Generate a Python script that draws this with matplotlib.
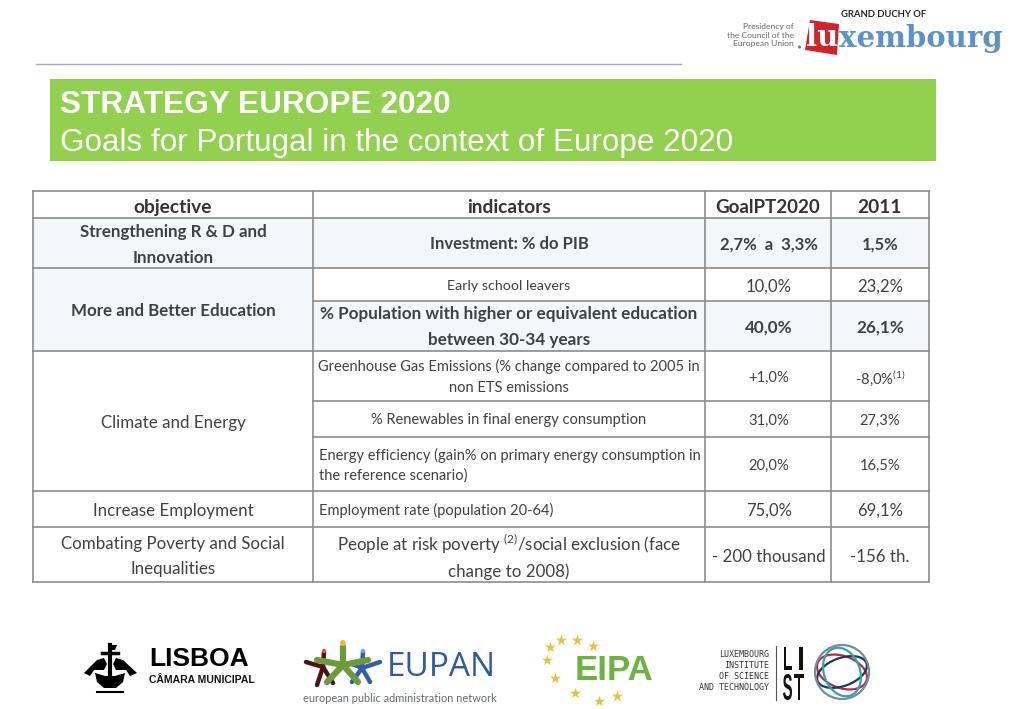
import matplotlib
matplotlib.use('Agg')
import matplotlib.pyplot as plt
from matplotlib.patches import Rectangle, Polygon, Ellipse, Circle, PathPatch
from matplotlib.textpath import TextPath
from matplotlib.font_manager import FontProperties
from matplotlib.transforms import Affine2D

# table text
headers = ['objective', 'indicators', 'GoalPT2020', '2011']
objectives = ['Strengthening R & D and\nInnovation', 'More and Better Education', 'Climate and Energy',
              'Increase Employment', 'Combating Poverty and Social\nInequalities']
indicators = ['Investment: % do PIB', 'Early school leavers',
              '% Population with higher or equivalent education\nbetween 30-34 years',
              'Greenhouse Gas Emissions (% change compared to 2005 in\nnon ETS emissions',
              '% Renewables in final energy consumption',
              'Energy efficiency (gain% on primary energy consumption in\nthe reference scenario)',
              'Employment rate (population 20-64)',
              'People at risk poverty $^{(2)}$/social exclusion (face\nchange to 2008)']
goals = ['2,7%  a  3,3%', '10,0%', '40,0%', '+1,0%', '31,0%', '20,0%', '75,0%', '- 200 thousand']
values_2011 = ['1,5%', '23,2%', '26,1%', '-8,0%$^{(1)}$', '27,3%', '16,5%', '69,1%', '-156 th.']

title = 'STRATEGY EUROPE 2020'
subtitle = 'Goals for Portugal in the context of Europe 2020'

# geometry in pixels
col_x = [33, 313, 705, 831, 929]
GRID = '#8c8c8c'
TXT = '#404040'
SHADE = '#f3f6fa'

plt.rcParams['font.family'] = ['Lato', 'DejaVu Sans']
plt.rcParams['mathtext.fontset'] = 'custom'
plt.rcParams['mathtext.rm'] = 'Lato'

fig = plt.figure(figsize=(10.24, 7.09), dpi=100, facecolor='white')
ax = fig.add_axes([0, 0, 1, 1])
ax.set_xlim(0, 1024)
ax.set_ylim(709, 0)
ax.axis('off')


def block_letter(s, x0, x1, y0, y1):
    # condensed LIST letters, stretched into a pixel box
    tp = TextPath((0, 0), s, size=10, prop=FontProperties(family='Liberation Sans', weight='bold'))
    bb = tp.get_extents()
    tr = (Affine2D().translate(-bb.x0, -bb.y0)
          .scale((x1 - x0) / bb.width, -(y1 - y0) / bb.height)
          .translate(x0, y1))
    ax.add_patch(PathPatch(tp, transform=tr + ax.transData, fc='#111111', ec='none'))


def figure_star(cx, cy, arms, color, lw, z):
    # EUPAN figures, arms drawn as thick round strokes
    for ex, ey in arms:
        ax.plot([cx, ex], [cy, ey], color=color, lw=lw, solid_capstyle='round', zorder=z)


# header rule and green banner
ax.plot([36, 681], [64, 64], color='#a9a6cf', lw=1)
ax.add_patch(Rectangle((50, 79), 886, 82, fc='#92d050', ec='none'))
ax.text(60, 105, title, family='Liberation Sans', weight='bold', fontsize=22.8, color='white', va='center')
ax.text(60, 143, subtitle, family='Liberation Sans', fontsize=22.6, color='white', va='center')

# shaded cells
ax.add_patch(Rectangle((33, 218), 896, 50, fc=SHADE, ec='none'))
ax.add_patch(Rectangle((33, 268), 280, 83, fc=SHADE, ec='none'))
ax.add_patch(Rectangle((313, 301), 616, 50, fc=SHADE, ec='none'))

# grid lines
for y in [191, 218, 268, 351, 491, 527, 582]:
    ax.plot([33, 929], [y, y], color=GRID, lw=1.2)
for y in [301, 401, 437]:
    ax.plot([313, 929], [y, y], color=GRID, lw=1.2)
for x in col_x:
    ax.plot([x, x], [191, 582], color=GRID, lw=1.2)

# header row
head_size = [13.8, 13.8, 13.5, 13.8]
for i, h in enumerate(headers):
    ax.text((col_x[i] + col_x[i + 1]) / 2, 207.5, h, ha='center', va='center',
            fontsize=head_size[i], weight='bold', color='#333333')

# objective column
obj_rows = [(218, 268), (268, 351), (351, 491), (491, 527), (527, 582)]
obj_bold = [True, True, False, False, False]
for label, (y0, y1), b in zip(objectives, obj_rows, obj_bold):
    ax.text(173, (y0 + y1) / 2 + 2, label, ha='center', va='center', linespacing=1.7,
            fontsize=12.2, weight='bold' if b else 'normal', color=TXT)

# indicator rows
ind_rows = [(218, 268), (268, 301), (301, 351), (351, 401), (401, 437), (437, 491), (491, 527), (527, 582)]
ind_size = [12, 10.3, 12.3, 10.5, 10.5, 10.5, 10.5, 12.2]
ind_bold = [True, False, True, False, False, False, False, False]
ind_space = [1.5, 1.5, 1.7, 1.65, 1.5, 1.45, 1.5, 1.55]
ind_shift = [1, 1, 1, 1, 1, 1, 1, 2]
num_size = [12, 12, 12.3, 10.6, 10.6, 10.6, 12, 12.2]
for k, (y0, y1) in enumerate(ind_rows):
    cy = (y0 + y1) / 2
    w = 'bold' if ind_bold[k] else 'normal'
    if k in (5, 6):
        # these two are left aligned in the cell
        ax.text(319, cy + ind_shift[k], indicators[k], ha='left', va='center', fontsize=ind_size[k],
                linespacing=ind_space[k], color=TXT)
    else:
        ax.text(509, cy + ind_shift[k], indicators[k], ha='center', va='center', fontsize=ind_size[k],
                weight=w, linespacing=ind_space[k], color=TXT)
    ax.text(769, cy + 2, goals[k], ha='center', va='center', fontsize=num_size[k], weight=w, color=TXT)
    ax.text(880, cy + 2, values_2011[k], ha='center', va='center', fontsize=num_size[k], weight=w, color=TXT)

# Luxembourg logo, top right
ax.text(884, 14.5, 'GRAND DUCHY OF', ha='center', va='center', fontsize=6.8, weight='bold', color='#222222')
ax.text(794, 35, 'Presidency of\nthe Council of the\nEuropean Union', ha='right', va='center',
        fontsize=6.1, color='#666666', linespacing=1.25)
ax.add_patch(Circle((799.5, 47), 1.6, fc='#4f8cc4', ec='none'))
ax.add_patch(Polygon([(810, 20), (839, 24), (837, 55), (805, 50)], fc='#d2232a', ec='none'))
ax.text(822, 38, 'lu', ha='center', va='center', family='DejaVu Serif', weight='bold', fontsize=21, color='white')
ax.text(839, 38.5, 'xembourg', ha='left', va='center', family='DejaVu Serif', weight='bold',
        fontsize=21, color='#5b93c8')

# Lisboa logo
ax.plot([110, 110], [645, 680], color='black', lw=3)
ax.plot([102, 118], [653, 653], color='black', lw=2.5)
ax.add_patch(Polygon([(108, 645), (117, 645), (115, 650), (108, 650)], fc='black', ec='none'))
ax.add_patch(Polygon([(84, 673), (97, 660), (104, 658), (107, 664), (104, 670), (94, 670), (90, 676)],
                     fc='black', ec='none'))
ax.add_patch(Polygon([(137, 673), (123, 660), (116, 658), (113, 664), (116, 670), (126, 670), (130, 676)],
                     fc='black', ec='none'))
ax.add_patch(Polygon([(95, 673), (105, 676), (115, 676), (125, 673), (123, 682), (116, 688), (104, 688), (97, 682)],
                     fc='black', ec='none'))
ax.plot([97, 123], [692, 692], color='black', lw=1.5)
ax.text(149, 659, 'LISBOA', family='Liberation Sans', weight='bold', fontsize=19, color='black', va='center')
ax.text(149, 680, 'CÂMARA MUNICIPAL', family='Liberation Sans', weight='bold', fontsize=7.5, color='#111111', va='center')

# EUPAN logo
figure_star(323, 667, [(306, 662), (324, 652), (317, 685), (333, 683)], '#4a1414', 3.2, 2)
figure_star(362, 668, [(380, 662), (363, 652), (352, 682), (370, 682), (350, 663)], '#2f5fa8', 3.2, 2)
figure_star(343, 665, [(343, 647), (317, 660), (368, 660), (327, 682), (358, 682)], '#6f9a3c', 4.5, 3)
ax.add_patch(Circle((343, 643), 3, fc='#f0b83c', ec='none', zorder=4))
ax.add_patch(Circle((324, 651), 2.2, fc='#d65a4a', ec='none', zorder=4))
ax.add_patch(Circle((363, 651), 2.2, fc='#58b5d6', ec='none', zorder=4))
ax.text(387, 667, 'EUPAN', family='Open Sans', fontsize=24, color='#2e5c9e', va='center')
ax.text(399.5, 699, 'european public administration network', ha='center', va='center',
        fontsize=7.9, color='#5f6b75')

# EIPA logo
eipa_star_x = [550, 561, 577, 593, 547, 555, 575, 599, 617]
eipa_star_y = [647, 640, 640, 646, 660, 678, 693, 701, 696]
ax.scatter(eipa_star_x, eipa_star_y, marker='*', s=70, color='#e8c23a', linewidths=0)
ax.text(614, 671, 'EIPA', ha='center', va='center', family='Liberation Sans', weight='bold',
        fontsize=25, color='#6cb33f')

# LIST logo
ax.text(769, 671, 'LUXEMBOURG\nINSTITUTE\nOF SCIENCE\nAND TECHNOLOGY', ha='right', va='center',
        family='DejaVu Sans Mono', fontsize=6, color='#333333', linespacing=1.25)
ax.plot([776, 776], [646, 700], color='#555555', lw=0.8)
block_letter('L', 784, 792, 647, 670)
block_letter('I', 799, 803, 647, 670)
block_letter('S', 783, 792, 674, 700)
block_letter('T', 794, 804, 674, 700)
rings = [(842, 672, 52, 32, 20, '#c2264e'), (842, 672, 52, 28, -20, '#1a3a5c'),
         (842, 672, 50, 36, 70, '#2aa5b5'), (842, 672, 54, 54, 0, '#7a8a96')]
for cx, cy, w, h, a, c in rings:
    ax.add_patch(Ellipse((cx, cy), w, h, angle=a, fc='none', ec=c, lw=1.6))

fig.savefig('out.png', dpi=100, facecolor='white')
